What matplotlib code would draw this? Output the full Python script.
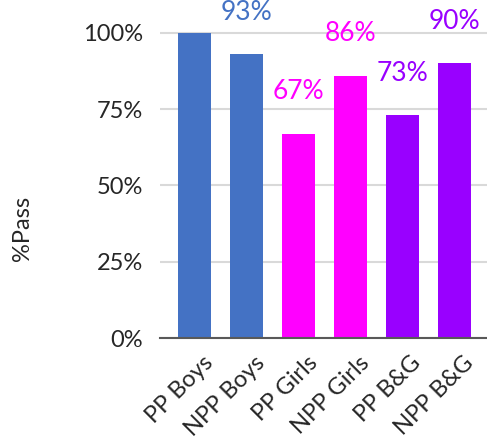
import numpy as np
import matplotlib.pyplot as plt
import matplotlib.transforms as mtransforms
from matplotlib.ticker import PercentFormatter

categories = ["PP Boys", "NPP Boys", "PP Girls", "NPP Girls", "PP B&G", "NPP B&G"]
pass_rate = [1.00, 0.93, 0.67, 0.86, 0.73, 0.90]
colors = ["#4472C4", "#4472C4", "#FF00FF", "#FF00FF", "#9900FF", "#9900FF"]
yticks = [0, 0.25, 0.5, 0.75, 1.0]

plt.rcParams['font.family'] = ['Lato', 'DejaVu Sans']

fig = plt.figure(figsize=(4.87, 4.48), dpi=100)
ax = fig.add_axes([0.3285, 0.2455, 0.6715, 0.7545])

x = np.arange(len(categories))
ax.bar(x, pass_rate, width=0.63, color=colors, zorder=3)

# value labels sit well above each bar (first one runs off the top)
for xi, v, c in zip(x[1:], pass_rate[1:], colors[1:]):
    ax.text(xi, v + 0.113, f"{v:.0%}", ha='center', va='baseline',
            fontsize=19, color=c)

ax.set_xlim(-0.663, 5.625)
ax.set_ylim(0, 1.108)
ax.set_yticks(yticks)
ax.yaxis.set_major_formatter(PercentFormatter(1.0, decimals=0))
ax.grid(axis='y', color='#d9d9d9', linewidth=1.5, zorder=0)
ax.set_axisbelow(True)

for s in ['top', 'right', 'left']:
    ax.spines[s].set_visible(False)
ax.spines['bottom'].set_color('#595959')
ax.spines['bottom'].set_linewidth(1.5)
ax.spines['bottom'].set_zorder(4)

ax.tick_params(axis='y', length=0, pad=12, labelsize=17, labelcolor='#262626')
ax.tick_params(axis='x', length=0, pad=10, labelsize=17, labelcolor='#262626')
ax.set_xticks(x)
ax.set_xticklabels(categories, rotation=45, ha='right', rotation_mode='anchor')
shift = mtransforms.ScaledTranslation(0.08, 0, fig.dpi_scale_trans)
for lbl in ax.get_xticklabels():
    lbl.set_transform(lbl.get_transform() + shift)

fig.text(0.047, 0.49, "%Pass", rotation=90, ha='center', va='center',
         fontsize=17, color='#262626')

fig.savefig("out.png", dpi=100)
